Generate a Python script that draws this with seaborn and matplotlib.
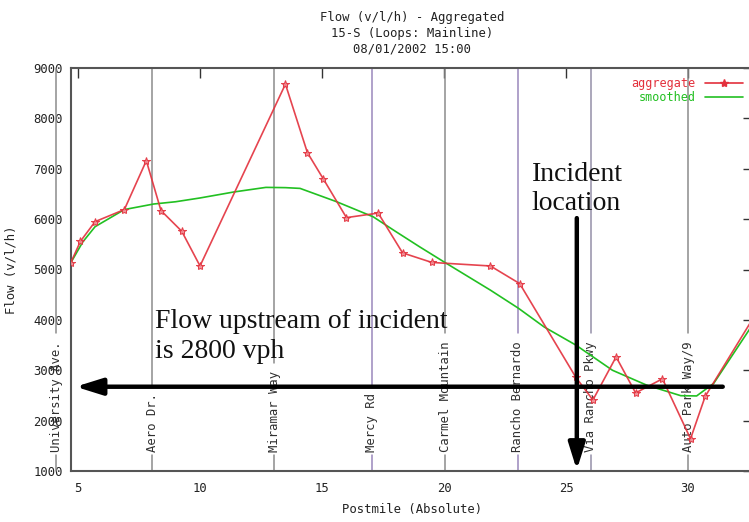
import matplotlib
matplotlib.use("Agg")
import matplotlib.pyplot as plt
import matplotlib.transforms as mtransforms
from matplotlib.lines import Line2D
import seaborn as sns

# aggregated loop flow along the corridor (postmile, v/l/h)
agg_postmile = [4.7, 5.1, 5.7, 6.9, 7.8, 8.4, 9.25, 10.0, 13.5, 14.4, 15.05, 16.0,
                17.3, 18.3, 19.5, 21.9, 23.1, 25.4, 26.1, 27.05, 27.85, 28.95,
                30.1, 30.7, 33.0]
agg_flow = [5130, 5560, 5950, 6190, 7160, 6170, 5760, 5070, 8680, 7320, 6800, 6030,
            6120, 5330, 5140, 5070, 4720, 2860, 2410, 3265, 2550, 2830,
            1640, 2480, 4300]

# smoothed curve
smooth_postmile = [4.7, 5.2, 5.7, 6.9, 8.1, 9.0, 10.0, 11.4, 12.7, 13.5, 14.1, 15.6,
                   17.1, 18.0, 19.0, 20.0, 21.9, 23.05, 24.1, 25.4, 26.9, 28.3,
                   29.7, 30.35, 31.05, 32.5, 33.0]
smooth_flow = [5130, 5550, 5850, 6190, 6300, 6345, 6420, 6540, 6630, 6625, 6610, 6345,
               6045, 5760, 5450, 5150, 4590, 4230, 3860, 3500, 3000, 2705,
               2495, 2490, 2740, 3800, 4250]

# landmarks (cross streets)
landmark_names = ["University Ave.", "Aero Dr.", "Miramar Way", "Mercy Rd",
                  "Carmel Mountain", "Rancho Bernardo", "Via Rancho Pkwy",
                  "Auto Park Way/9"]
landmark_postmile = [4.1, 8.05, 13.05, 17.04, 20.04, 23.02, 26.02, 30.01]
landmark_colors = ["#8c8c8c", "#8c8c8c", "#8c8c8c", "#9a88bc",
                   "#8c8c8c", "#9a88bc", "#9490a8", "#8c8c8c"]

x_ticks = [5, 10, 15, 20, 25, 30]
y_ticks = [1000, 2000, 3000, 4000, 5000, 6000, 7000, 8000, 9000]

# annotation arrows (postmile, flow)
upstream_arrow = ((31.42, 2673), (4.9, 2673))
incident_arrow = ((25.44, 6020), (25.44, 1020))

RED = "#e3303c"
GREEN = "#22c022"
MONO = "DejaVu Sans Mono"
SERIF = "Liberation Serif"

sns.set_style("white")

fig = plt.figure(figsize=(7.49, 5.22), dpi=100)
ax = fig.add_axes([71 / 749, 51 / 522, 682 / 749, 403 / 522])
ax.set_xlim(4.713, 32.66)
ax.set_ylim(1000, 9000)

# landmark labels first, lines are broken around them afterwards
blend = mtransforms.blended_transform_factory(ax.transData, ax.transAxes)
labels = []
for name, pm in zip(landmark_names, landmark_postmile):
    t = ax.text(pm, 0.047, name, transform=blend, rotation=90, ha="center",
                va="bottom", fontsize=8.8, family=MONO, color="#303030",
                zorder=2, clip_on=False)
    labels.append(t)

sns.lineplot(x=smooth_postmile, y=smooth_flow, ax=ax, color=GREEN, lw=1.2,
             zorder=3, sort=False)
sns.lineplot(x=agg_postmile, y=agg_flow, ax=ax, color=RED, lw=1.2, marker="*",
             markersize=6, markeredgecolor=RED, markerfacecolor="#f08890",
             zorder=4, sort=False, alpha=0.9)

ax.set_xticks(x_ticks)
ax.set_yticks(y_ticks)
ax.tick_params(direction="in", length=7, width=1, colors="#333333",
               labelsize=8.8, top=True, right=True, pad=6)
ax.tick_params(axis="x", pad=8)
for lbl in ax.get_xticklabels() + ax.get_yticklabels():
    lbl.set_family(MONO)
    lbl.set_color("#222222")
for sp in ax.spines.values():
    sp.set_color("#555555")
    sp.set_linewidth(1.5)

ax.set_xlabel("Postmile (Absolute)", family=MONO, fontsize=8.8, labelpad=6,
              color="#222222")
ax.set_ylabel("Flow (v/l/h)", family=MONO, fontsize=8.8, color="#222222")
ax.yaxis.set_label_coords(-0.078, 0.5)
ax.set_title("Flow (v/l/h) - Aggregated\n15-S (Loops: Mainline)\n08/01/2002 15:00",
             family=MONO, fontsize=8.8, linespacing=1.3, pad=11, color="#222222")

handles = [Line2D([], [], color=RED, lw=1.2, marker="*", markersize=6),
           Line2D([], [], color=GREEN, lw=1.2)]
ax.legend(handles, ["aggregate", "smoothed"], loc="upper right",
          bbox_to_anchor=(0.995, 0.995), markerfirst=False, frameon=False,
          labelcolor=[RED, GREEN], prop={"family": MONO, "size": 8.5},
          handlelength=3.2, handletextpad=0.8, labelspacing=0.05,
          borderaxespad=0.2)

# vertical landmark lines, interrupted by their labels
fig.canvas.draw()
inv = ax.transAxes.inverted()
for t, pm, c in zip(labels, landmark_postmile, landmark_colors):
    bb = t.get_window_extent().transformed(inv)
    ax.plot([pm, pm], [bb.y1 + 0.02, 1], transform=blend, color=c, lw=1.1,
            zorder=1, clip_on=False)
    ax.plot([pm, pm], [0, bb.y0 - 0.008], transform=blend, color=c, lw=1.1,
            zorder=1, clip_on=False)

# arrows and callouts
arrow_kw = dict(arrowstyle="-|>,head_length=0.8,head_width=0.25", color="black",
                lw=3.2, mutation_scale=20, shrinkA=0, shrinkB=0)
ax.annotate("", xy=upstream_arrow[1], xytext=upstream_arrow[0],
            arrowprops=arrow_kw, zorder=6)
ax.annotate("", xy=incident_arrow[1], xytext=incident_arrow[0],
            arrowprops=arrow_kw, zorder=6)

ax.text(8.16, 3250, "Flow upstream of incident\nis 2800 vph", family=SERIF,
        fontsize=20, linespacing=1.22, va="baseline", color="#111111", zorder=5)
ax.text(23.6, 6180, "Incident\nlocation", family=SERIF, fontsize=20,
        linespacing=1.22, va="baseline", color="#111111", zorder=5)

fig.savefig("out.png", dpi=100)
